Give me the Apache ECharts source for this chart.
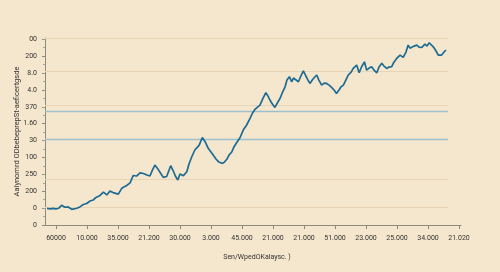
<!DOCTYPE html>
<html>
<head>
<meta charset="utf-8">
<script src="https://cdn.jsdelivr.net/npm/echarts@6/dist/echarts.min.js"></script>
<style>
html,body{margin:0;padding:0;background:#f5e7cd;}
#c{width:500px;height:272px;}
</style>
</head>
<body>
<div id="c"></div>
<script>
// tick labels
var xTickLabels = ["60000","10.000","35.000","21.200","30.000","3.000","45.000","21.000","21.000","51.000","23.000","25.000","34.000","21.020"];
var yTickLabels = ["0","0","200","250","100","30","1.60","370","4.0","8.0","200","00"];
// series (x in tick steps, y in label steps)
var seriesX = [-0.29,-0.19,-0.10,0,0.10,0.18,0.23,0.29,0.39,0.51,0.58,0.67,0.77,0.88,0.99,1.10,1.20,1.29,1.42,1.53,1.64,1.74,1.84,1.90,2.01,2.12,2.19,2.28,2.39,2.49,2.60,2.71,2.82,2.93,3.03,3.11,3.19,3.30,3.39,3.46,3.57,3.70,3.78,3.85,3.93,4.00,4.11,4.22,4.29,4.38,4.48,4.62,4.72,4.81,4.91,5.00,5.07,5.16,5.24,5.35,5.42,5.51,5.58,5.67,5.74,5.83,5.94,6.04,6.15,6.26,6.34,6.42,6.50,6.58,6.68,6.77,6.84,6.90,6.98,7.06,7.14,7.23,7.31,7.39,7.45,7.53,7.60,7.66,7.71,7.82,7.90,7.98,8.06,8.13,8.19,8.29,8.41,8.48,8.57,8.65,8.73,8.81,8.89,8.97,9.05,9.13,9.19,9.27,9.35,9.43,9.52,9.59,9.70,9.78,9.86,9.95,10.02,10.10,10.18,10.26,10.35,10.42,10.51,10.58,10.67,10.74,10.83,10.90,10.99,11.10,11.20,11.29,11.36,11.42,11.47,11.55,11.64,11.71,11.80,11.90,11.97,12.04,12.10,12.17,12.26,12.33,12.39,12.44,12.52,12.58];
var seriesY = [0.98,0.95,0.98,0.95,1.01,1.17,1.12,1.05,1.07,0.93,0.95,0.99,1.07,1.21,1.27,1.42,1.48,1.63,1.75,1.95,1.78,2.01,1.92,1.97,1.83,2.17,2.25,2.34,2.49,2.93,2.90,3.09,3.05,2.96,2.90,3.25,3.55,3.28,3.02,2.82,2.87,3.51,3.21,2.90,2.66,3.02,2.92,3.15,3.61,4.04,4.44,4.73,5.18,4.93,4.54,4.32,4.14,3.91,3.75,3.65,3.70,3.89,4.14,4.32,4.62,4.88,5.18,5.62,5.92,6.31,6.63,6.85,6.98,7.10,7.51,7.83,7.63,7.40,7.16,6.96,7.22,7.50,7.87,8.18,8.58,8.78,8.48,8.70,8.78,8.48,8.82,9.13,8.82,8.58,8.38,8.64,8.88,8.58,8.28,8.40,8.38,8.28,8.15,7.99,7.79,7.99,8.17,8.28,8.58,8.88,9.05,9.27,9.47,9.01,9.37,9.66,9.17,9.29,9.37,9.17,9.01,9.35,9.57,9.41,9.27,9.35,9.37,9.64,9.86,10.06,9.92,10.24,10.65,10.47,10.46,10.59,10.65,10.53,10.51,10.71,10.59,10.79,10.71,10.55,10.30,10.06,10.00,10.06,10.24,10.36];
var lightGrid = [11.07, 9.11, 7.10, 2.72, 1.07];
var blueGrid = [6.75, 5.09];

var X_MIN = -0.355, X_MAX = 13.065, GRID_END = 12.65;
var data = seriesX.map(function(x,i){return [x, seriesY[i]];});
var tickIdx = xTickLabels.map(function(_,i){return i;});
var yIdx = yTickLabels.map(function(_,i){return i;});

function lines(vals, color, width){
  return vals.map(function(v){
    return [{coord:[X_MIN, v], lineStyle:{color:color,width:width,type:'solid'}},{coord:[GRID_END, v]}];
  });
}

var chart = echarts.init(document.getElementById('c'), null, {renderer:'canvas'});
chart.setOption({
  backgroundColor:'#f5e7cd',
  animation:false,
  grid:{left:45,right:39,top:38,bottom:47,containLabel:false,outerBoundsMode:'none'},
  xAxis:{
    type:'value', min:X_MIN, max:X_MAX,
    name:'Sen/WpedOKalaysc. )', nameLocation:'middle', nameGap:29, nameMoveOverlap:false,
    nameTextStyle:{fontFamily:'Roboto',fontSize:7,color:'#333',padding:[0,0,0,8]},
    axisLine:{show:true,onZero:false,lineStyle:{color:'#8d8a80',width:1}},
    axisTick:{show:true,length:4,customValues:tickIdx,lineStyle:{color:'#8d8a80'}},
    axisLabel:{customValues:tickIdx,margin:10,fontFamily:'Roboto',fontSize:7,color:'#333',
      formatter:function(v){var i=Math.round(v);return xTickLabels[i]||'';}},
    splitLine:{show:false}
  },
  yAxis:{
    type:'value', min:0, max:11.07,
    name:'Aalynomrd ODbebeprepSt-aeficertgsde', nameLocation:'middle', nameGap:24, nameRotate:90, nameMoveOverlap:false,
    nameTextStyle:{fontFamily:'Roboto',fontSize:7.5,color:'#333'},
    axisLine:{show:true,onZero:false,lineStyle:{color:'#8d8a80',width:1}},
    axisTick:{show:true,length:3,customValues:yIdx,lineStyle:{color:'#8d8a80'}},
    minorTick:{show:true,splitNumber:4,length:2,lineStyle:{color:'#a9a598'}},
    axisLabel:{customValues:yIdx,margin:8,fontFamily:'Roboto',fontSize:7,color:'#333',
      formatter:function(v){var i=Math.round(v);return yTickLabels[i]||'';}},
    splitLine:{show:false}, minorSplitLine:{show:false}
  },
  series:[{
    type:'line', data:data, showSymbol:false, smooth:false,
    lineStyle:{color:'#1d6b94',width:1.7},
    z:5,
    markLine:{
      silent:true, symbol:['none','none'], label:{show:false}, z:1,
      data: lines(lightGrid,'#e6d4b4',1).concat(lines(blueGrid,'#9ec0cd',1.3))
    }
  }]
});
</script>
</body>
</html>
